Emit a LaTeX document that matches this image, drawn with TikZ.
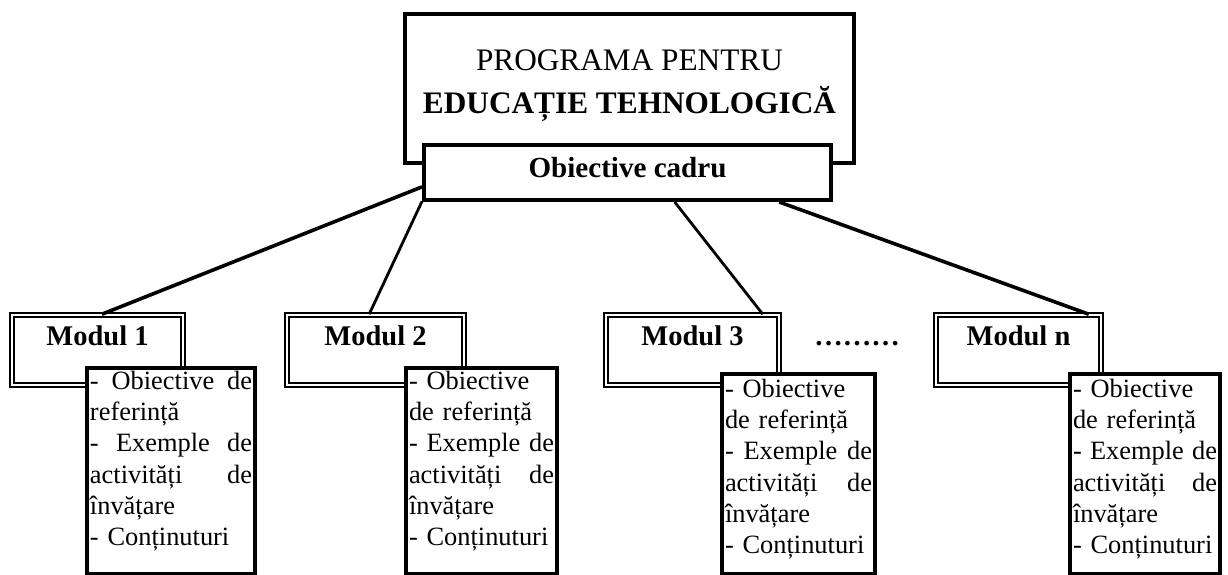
\documentclass[tikz,border=0pt]{standalone}
\usepackage{fontspec}
\setmainfont{Liberation Serif}
\usepackage{tikz}
\usetikzlibrary{calc}

\begin{document}
\begin{tikzpicture}[x=0.5pt, y=-0.5pt,
  titlebox/.style={rectangle, draw, line width=2pt, minimum width=224.5pt, minimum height=74.5pt},
  cadrubox/.style={rectangle, draw, line width=2pt, fill=white, minimum width=203.5pt, minimum height=27.5pt, text depth=5.5pt, font=\fontsize{14.55pt}{17pt}\selectfont\bfseries},
  modbox/.style={rectangle, draw, double, double distance=1.4pt, line width=0.8pt, fill=white, minimum width=#1, minimum height=35pt, inner sep=0pt, text depth=14pt, font=\fontsize{14.25pt}{17pt}\selectfont\bfseries},
  subbox/.style={rectangle, draw, line width=2pt, fill=white, text width=#1, inner xsep=1.5pt, inner ysep=0pt, align=left, font=\fontsize{13.2pt}{15.65pt}\selectfont},
  link/.style={line width=1.8pt},
]
  \useasboundingbox (0,0) rectangle (1228,574);

  % Program
  \node[titlebox] (prog) at (629.5,88.5) {};
  \node[align=center, font=\fontsize{15.65pt}{21.5pt}\selectfont] (progtext) at (629.5,86) {PROGRAMA PENTRU\\\textbf{EDUCAȚIE TEHNOLOGICĂ}};
  \node[cadrubox] (cadru) at (627.5,172.5) {Obiective cadru};

  % Modules
  \node[modbox=85.5pt] (m1) at (97.5,350) {Modul 1};
  \node[modbox=88.5pt] (m2) at (375.5,350) {Modul 2};
  \node[modbox=86.5pt] (m3) at (692.5,350) {Modul 3};
  \node[modbox=82.5pt] (mn) at (1018.5,350) {Modul n};
  \node[anchor=base, font=\fontsize{14.25pt}{17pt}\selectfont\bfseries] (dots) at (857,345.5) {………};

  % Module contents
  \node[subbox=81pt, minimum height=103pt, text depth=91pt] (s1) at (171,471) {-\hfill Obiective\hfill de\\referință\\-\hfill Exemple\hfill de\\activități\hfill de\\învățare\\- Conținuturi};
  \node[subbox=72.5pt, minimum height=103pt, text depth=91pt] (s2) at (481.5,471) {- Obiective\\de referință\\-\hfill Exemple\hfill de\\activități\hfill de\\învățare\\- Conținuturi};
  \node[subbox=73.5pt, minimum height=100pt, text depth=86pt] (s3) at (798.5,474) {- Obiective\\de referință\\-\hfill Exemple\hfill de\\activități\hfill de\\învățare\\- Conținuturi};
  \node[subbox=72pt, minimum height=100pt, text depth=86pt] (sn) at (1145,474) {- Obiective\\de referință\\-\hfill Exemple\hfill de\\activități\hfill de\\învățare\\- Conținuturi};

  \draw[link] (cadru.184) -- (m1.83);
  \draw[link, line width=1.4pt] (cadru.188) -- (m2.100);
  \draw[link, line width=1.4pt] (cadru.-32) -- (m3.27);
  \draw[link] (cadru.-11) -- (mn.27);
\end{tikzpicture}
\end{document}
